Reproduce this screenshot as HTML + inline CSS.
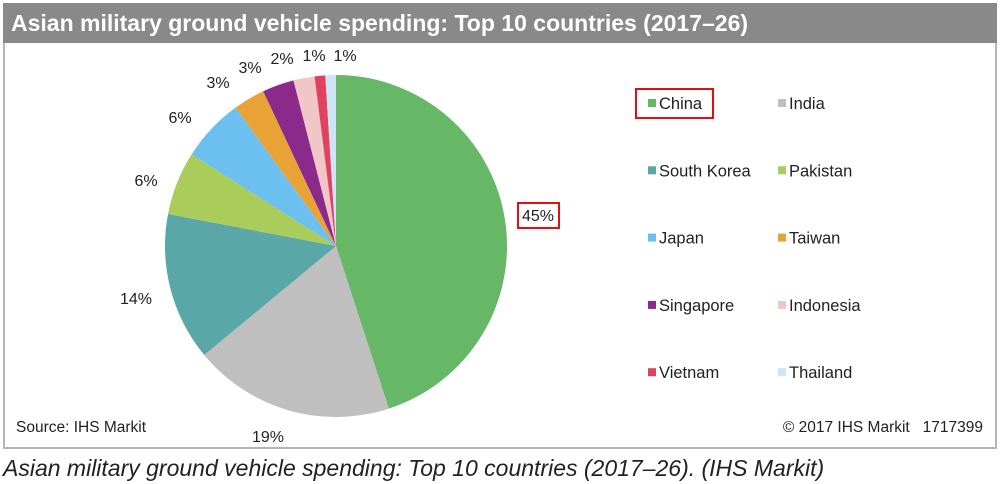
<!DOCTYPE html>
<html><head><meta charset="utf-8"><style>
body{margin:0;width:1000px;height:484px;background:#fff;font-family:"Liberation Sans",sans-serif;position:relative;overflow:hidden}
#title{position:absolute;left:3px;top:3px;width:994px;height:40px;background:#898989;color:#fff;font-weight:bold;font-size:23px;line-height:40px;padding-left:8px;box-sizing:border-box}
#box{position:absolute;left:3px;top:43px;width:994px;height:406px;border:2px solid #b5b5b5;border-top:none;box-sizing:border-box}
#caption{position:absolute;left:3px;top:455px;font-style:italic;font-size:23px;color:#222}
svg{position:absolute;left:0;top:0}
</style></head><body>
<div id="title">Asian military ground vehicle spending: Top 10 countries (2017–26)</div>
<div id="box"></div>
<div id="caption">Asian military ground vehicle spending: Top 10 countries (2017–26). (IHS Markit)</div>
<svg id="chart" width="1000" height="484">
<text x="16" y="432" font-size="15.5" fill="#222">Source: IHS Markit</text>
<text x="983" y="432" font-size="15.5" fill="#222" text-anchor="end" xml:space="preserve" style="white-space:pre">© 2017 IHS Markit   1717399</text>
<rect x="636" y="89" width="77" height="29" fill="none" stroke="#e01010" stroke-width="2"/>
<rect x="518" y="203" width="41" height="25" fill="none" stroke="#e01010" stroke-width="2"/>
</svg>
<script>
const categories=["China","India","South Korea","Pakistan","Japan","Taiwan","Singapore","Indonesia","Vietnam","Thailand"];
const values=[45,19,14,6,6,3,3,2,1,1];
const labels=["45%","19%","14%","6%","6%","3%","3%","2%","1%","1%"];
const colors=["#66b866","#bfbfbf","#5aa7a7","#a9cc5a","#6cc0ef","#e9a235","#8b2a8b","#f0c6c6","#e0435f","#cde6f7"];
const svg=document.getElementById('chart');
const NS='http://www.w3.org/2000/svg';
const cx=336,cy=246,r=171;
// label anchor points (layout, not data)
const labelPos=[[538,221],[268,442],[136,304],[146,186],[180,123],[218,88],[250,73],[282,64],[314,61],[345,61]];
const total=values.reduce((a,b)=>a+b,0);
function pt(a,rr){return [cx+rr*Math.sin(a),cy-rr*Math.cos(a)];}
let acc=0;
values.forEach((v,i)=>{
  const a0=acc/total*2*Math.PI; acc+=v; const a1=acc/total*2*Math.PI;
  const p0=pt(a0,r),p1=pt(a1,r);
  const path=document.createElementNS(NS,'path');
  path.setAttribute('d',`M${cx},${cy}L${p0[0]},${p0[1]}A${r},${r} 0 ${a1-a0>Math.PI?1:0} 1 ${p1[0]},${p1[1]}Z`);
  path.setAttribute('fill',colors[i]);
  
  
  svg.appendChild(path);
  const lp=labelPos[i];
  const t=document.createElementNS(NS,'text');
  t.setAttribute('x',lp[0]);t.setAttribute('y',lp[1]);
  t.setAttribute('text-anchor','middle');t.setAttribute('font-size','16');t.setAttribute('fill','#222');
  t.textContent=labels[i];
  
  
  svg.appendChild(t);
});
categories.forEach((c,i)=>{
  const col=i%2,row=Math.floor(i/2);
  const x=col?778:648,y=103+row*67.3;
  const g=document.createElementNS(NS,'g');
  
  
  const s=document.createElementNS(NS,'rect');
  s.setAttribute('x',x);s.setAttribute('y',y-4);s.setAttribute('width',8);s.setAttribute('height',8);s.setAttribute('fill',colors[i]);
  const t=document.createElementNS(NS,'text');
  t.setAttribute('x',x+11);t.setAttribute('y',y+6);t.setAttribute('font-size','16.5');t.setAttribute('fill','#222');
  t.textContent=c;
  g.appendChild(s);g.appendChild(t);svg.appendChild(g);
});
</script>
</body></html>
